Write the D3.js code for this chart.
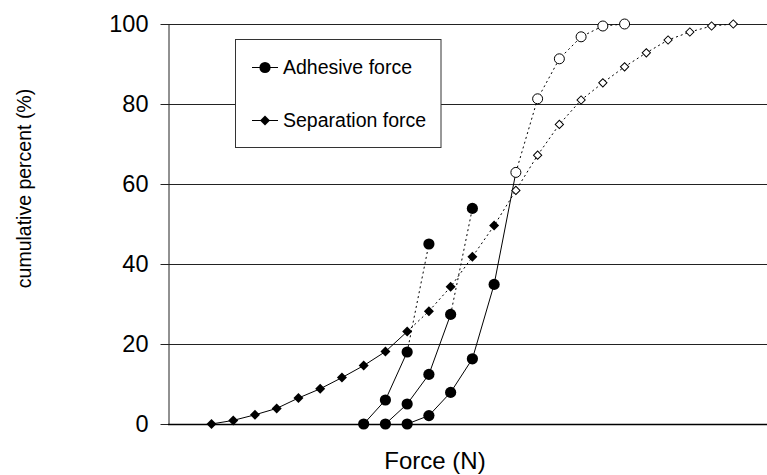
<!DOCTYPE html>
<html>
<head>
<meta charset="utf-8">
<script src="https://cdn.jsdelivr.net/npm/d3@7"></script>
<style>
  body { margin: 0; background: #fff; }
  text { font-family: "Liberation Sans", Arial, sans-serif; fill: #000; }
</style>
</head>
<body>
<div id="chart"></div>
<script>
// force bins (N) and cumulative percent
const sepForce = [2,3,4,5,6,7,8,9,10,11,12,13,14,15,16,17,18,19,20,21,22,23,24,25,26];
const sepPct   = [0,0.9,2.3,3.9,6.5,8.8,11.6,14.6,18.1,23.1,28.2,34.3,41.8,49.6,58.4,67.2,74.9,81,85.3,89.3,92.8,96,98,99.5,100];
const sepSolidEnd = 9;   // last index joined by a solid line
const sepFilledEnd = 13; // last index with a filled marker

const adhAForce = [9,10,11,12];
const adhAPct   = [0,6,18,45];
const adhBForce = [10,11,12,13,14];
const adhBPct   = [0,5,12.4,27.4,53.9];
const adhCForce = [11,12,13,14,15,16,17,18,19,20,21];
const adhCPct   = [0,2.1,7.9,16.3,34.9,62.9,81.3,91.3,96.8,99.5,100];
const adhGroups = [
  {force: adhAForce, pct: adhAPct, solidEnd: 2, filledEnd: 3},
  {force: adhBForce, pct: adhBPct, solidEnd: 3, filledEnd: 4},
  {force: adhCForce, pct: adhCPct, solidEnd: 5, filledEnd: 4}
];

const yTicks = [0,20,40,60,80,100];
const legendLabels = ["Adhesive force", "Separation force"];

const showChart = () => {

  const width = 767, height = 475;
  const plotL = 168, plotR = 767, plotT = 24, plotB = 424;

  const svg = d3.select("#chart").append("svg")
      .attr("width", width)
      .attr("height", height);

  const x = d3.scaleLinear().domain([0, 27.55]).range([plotL, plotR]);
  const y = d3.scaleLinear().domain([0, 100]).range([plotB, plotT]);

  // gridlines
  svg.append("g")
    .selectAll("line")
    .data(yTicks.filter(d => d > 0))
    .join("line")
      .attr("x1", plotL).attr("x2", plotR)
      .attr("y1", d => y(d) + 0.5).attr("y2", d => y(d) + 0.5)
      .attr("stroke", "#222")
      .attr("stroke-width", 1);

  // y axis
  const yAxis = svg.append("g")
      .attr("transform", `translate(${plotL + 0.5},0)`)
      .call(d3.axisLeft(y).tickValues(yTicks).tickSize(8).tickPadding(12).tickSizeOuter(0));
  yAxis.select(".domain").attr("stroke", "#222");
  yAxis.selectAll(".tick line").attr("stroke", "#222");
  yAxis.selectAll(".tick text")
      .style("font-size", "23.5px")
      .style("font-family", "'Liberation Sans', Arial, sans-serif")
      .attr("fill", "#000");

  // x baseline
  svg.append("line")
      .attr("x1", plotL).attr("x2", plotR)
      .attr("y1", plotB + 0.5).attr("y2", plotB + 0.5)
      .attr("stroke", "#000")
      .attr("stroke-width", 1.5);

  const line = d3.line().x(d => x(d[0])).y(d => y(d[1]));
  const lines = svg.append("g").attr("fill", "none").attr("stroke", "#000").attr("stroke-width", 1);

  const drawLines = (force, pct, solidEnd) => {
    const pts = force.map((f, i) => [f, pct[i]]);
    lines.append("path").attr("d", line(pts.slice(0, solidEnd + 1)));
    if (solidEnd < pts.length - 1) {
      lines.append("path")
          .attr("d", line(pts.slice(solidEnd)))
          .attr("stroke-dasharray", "2,3");
    }
  };

  adhGroups.forEach(g => drawLines(g.force, g.pct, g.solidEnd));
  drawLines(sepForce, sepPct, sepSolidEnd);

  const marks = svg.append("g");
  const square = d3.symbol().type(d3.symbolSquare);

  // adhesive force circles
  adhGroups.forEach(g => {
    marks.selectAll(null)
      .data(g.force.map((f, i) => ({f, p: g.pct[i], filled: i <= g.filledEnd})))
      .join("circle")
        .attr("cx", d => x(d.f))
        .attr("cy", d => y(d.p))
        .attr("r", d => d.filled ? 5.6 : 5)
        .attr("fill", d => d.filled ? "#000" : "#fff")
        .attr("stroke", "#000")
        .attr("stroke-width", d => d.filled ? 0 : 1);
  });

  // separation force diamonds
  marks.selectAll(null)
    .data(sepForce.map((f, i) => ({f, p: sepPct[i], filled: i <= sepFilledEnd})))
    .join("path")
      .attr("d", d => square.size(d.filled ? 50 : 34)())
      .attr("transform", d => `translate(${x(d.f)},${y(d.p)}) rotate(45)`)
      .attr("fill", d => d.filled ? "#000" : "#fff")
      .attr("stroke", "#000")
      .attr("stroke-width", d => d.filled ? 0 : 1);

  // legend
  const lg = svg.append("g");
  lg.append("rect")
      .attr("x", 235.5).attr("y", 39.5)
      .attr("width", 205.5).attr("height", 108)
      .attr("fill", "#fff")
      .attr("stroke", "#333")
      .attr("stroke-width", 1);

  const items = lg.selectAll("g.item")
    .data(legendLabels)
    .join("g")
      .attr("class", "item")
      .attr("transform", (d, i) => `translate(252,${i === 0 ? 67.5 : 120.5})`);
  items.append("line")
      .attr("x1", 0).attr("x2", 26)
      .attr("stroke", "#000").attr("stroke-width", 1);
  items.filter((d, i) => i === 0).append("circle")
      .attr("cx", 13).attr("r", 5.6).attr("fill", "#000");
  items.filter((d, i) => i === 1).append("path")
      .attr("d", square.size(50)())
      .attr("transform", "translate(13,0) rotate(45)")
      .attr("fill", "#000");
  items.append("text")
      .attr("x", 31)
      .attr("dy", "0.35em")
      .style("font-size", "19.5px")
      .text(d => d);

  // axis titles
  svg.append("text")
      .attr("x", 435)
      .attr("y", 469)
      .attr("text-anchor", "middle")
      .style("font-size", "24px")
      .text("Force (N)");

  svg.append("text")
      .attr("transform", "translate(31,188.5) rotate(-90)")
      .attr("text-anchor", "middle")
      .style("font-size", "19.5px")
      .text("cumulative percent (%)");
}

showChart()
</script>
</body>
</html>
